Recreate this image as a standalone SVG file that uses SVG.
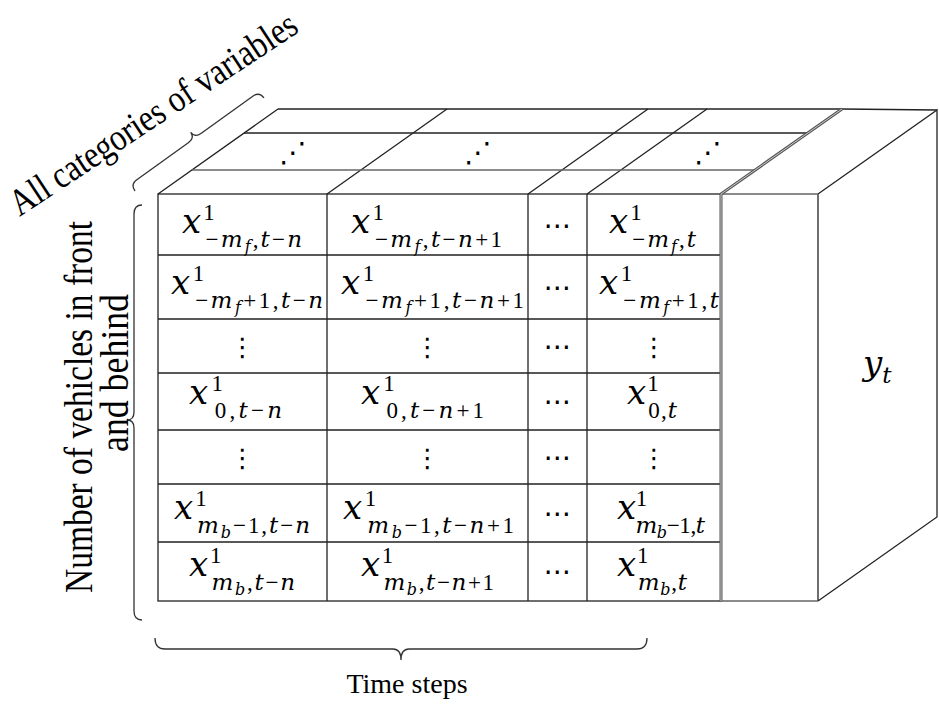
<svg xmlns="http://www.w3.org/2000/svg" width="939" height="706" viewBox="0 0 939 706">
<style>
.ln{stroke:#222;stroke-width:1.3;fill:none}
.lg{stroke:#666;stroke-width:1.3;fill:none}
.dbl{stroke:#555;stroke-width:3;fill:none}
.dblin{stroke:#ccc;stroke-width:1;fill:none}
.br{stroke:#333;stroke-width:1.3;fill:none}
.m{font-family:"DejaVu Serif","Liberation Serif",serif;font-style:italic;font-size:34px;fill:#000}
.u{font-style:normal;font-family:"Liberation Serif","DejaVu Serif",serif}
.s{font-size:23px}
.ss{font-size:16px}
.lab{font-family:"Liberation Serif","Times New Roman",serif;fill:#000}
.dh{font-family:"DejaVu Sans",sans-serif;font-size:28px;text-anchor:middle;fill:#000}
.dv{font-family:"DejaVu Sans",sans-serif;font-size:26px;text-anchor:middle;fill:#000}
</style>
<rect width="939" height="706" fill="#fff"/>

<g id="grid">
<rect x="158" y="194" width="563" height="407" class="ln" fill="#fff"/>
<path class="ln" d="M327,194V601M528,194V601M587,194V601"/>
<path class="ln" d="M158,255H721M158,319H721M158,373H721M158,430H721M158,484H721M158,542H721"/>
<path class="ln" d="M158,194L278,109M327,194L447,109M528,194L648,109M587,194L707,109"/>
<path class="ln" d="M278,109H842L937,110"/>
<path class="ln" d="M244,133H808"/>
<path class="lg" d="M192,170H755"/>
</g>

<g id="yt-box">
<path class="ln" d="M818,194V601M818,194L937,110V517L818,601"/>
<path class="lg" d="M721,601H818M721,194H818"/>
<path class="dbl" d="M842,109L721,194V601"/>
<path class="dblin" d="M842,109L721,194V601"/>
<text class="m" x="863" y="375">y<tspan class="s" dy="8">t</tspan></text>
</g>

<g id="top-dots">
<text class="dh" x="293" y="162">⋰</text>
<text class="dh" x="478" y="162">⋰</text>
<text class="dh" x="708" y="162">⋰</text>
</g>

<g id="r1c1"><text class="m" x="182" y="233" textLength="120" lengthAdjust="spacing">x<tspan class="s u" dy="-13">1</tspan><tspan class="s" dx="-11.5" dy="27"><tspan class="u">−</tspan>m</tspan><tspan class="ss" dy="5">f</tspan><tspan class="s" dy="-5"><tspan class="u">,</tspan>t<tspan class="u">−</tspan>n</tspan></text></g>
<g id="r1c2"><text class="m" x="351" y="233" textLength="151" lengthAdjust="spacing">x<tspan class="s u" dy="-13">1</tspan><tspan class="s" dx="-11.5" dy="27"><tspan class="u">−</tspan>m</tspan><tspan class="ss" dy="5">f</tspan><tspan class="s" dy="-5"><tspan class="u">,</tspan>t<tspan class="u">−</tspan>n<tspan class="u">+1</tspan></tspan></text></g>
<g id="r1c3"><text class="dh" x="557.5" y="235">⋯</text></g>
<g id="r1c4"><text class="m" x="609" y="233" textLength="87" lengthAdjust="spacing">x<tspan class="s u" dy="-13">1</tspan><tspan class="s" dx="-11.5" dy="27"><tspan class="u">−</tspan>m</tspan><tspan class="ss" dy="5">f</tspan><tspan class="s" dy="-5"><tspan class="u">,</tspan>t</tspan></text></g>

<g id="r2c1"><text class="m" x="171" y="294" textLength="152" lengthAdjust="spacing">x<tspan class="s u" dy="-13">1</tspan><tspan class="s" dx="-11.5" dy="27"><tspan class="u">−</tspan>m</tspan><tspan class="ss" dy="5">f</tspan><tspan class="s" dy="-5"><tspan class="u">+1,</tspan>t<tspan class="u">−</tspan>n</tspan></text></g>
<g id="r2c2"><text class="m" x="341" y="294" textLength="183" lengthAdjust="spacing">x<tspan class="s u" dy="-13">1</tspan><tspan class="s" dx="-11.5" dy="27"><tspan class="u">−</tspan>m</tspan><tspan class="ss" dy="5">f</tspan><tspan class="s" dy="-5"><tspan class="u">+1,</tspan>t<tspan class="u">−</tspan>n<tspan class="u">+1</tspan></tspan></text></g>
<g id="r2c3"><text class="dh" x="557.5" y="297">⋯</text></g>
<g id="r2c4"><text class="m" x="599" y="294" textLength="120" lengthAdjust="spacing">x<tspan class="s u" dy="-13">1</tspan><tspan class="s" dx="-11.5" dy="27"><tspan class="u">−</tspan>m</tspan><tspan class="ss" dy="5">f</tspan><tspan class="s" dy="-5"><tspan class="u">+1,</tspan>t</tspan></text></g>

<g id="r3c1"><text class="dv" x="242.5" y="356">⋮</text></g>
<g id="r3c2"><text class="dv" x="427.5" y="356">⋮</text></g>
<g id="r3c3"><text class="dh" x="557.5" y="356">⋯</text></g>
<g id="r3c4"><text class="dv" x="654" y="356">⋮</text></g>

<g id="r4c1"><text class="m" x="189" y="404" textLength="93" lengthAdjust="spacing">x<tspan class="s u" dy="-13">1</tspan><tspan class="s" dx="-11.5" dy="27"><tspan class="u">0,</tspan>t<tspan class="u">−</tspan>n</tspan></text></g>
<g id="r4c2"><text class="m" x="361" y="404" textLength="123" lengthAdjust="spacing">x<tspan class="s u" dy="-13">1</tspan><tspan class="s" dx="-11.5" dy="27"><tspan class="u">0,</tspan>t<tspan class="u">−</tspan>n<tspan class="u">+1</tspan></tspan></text></g>
<g id="r4c3"><text class="dh" x="557.5" y="411">⋯</text></g>
<g id="r4c4"><text class="m" x="627" y="404" textLength="50" lengthAdjust="spacing">x<tspan class="s u" dy="-13">1</tspan><tspan class="s" dx="-11.5" dy="27"><tspan class="u">0,</tspan>t</tspan></text></g>

<g id="r5c1"><text class="dv" x="242.5" y="467">⋮</text></g>
<g id="r5c2"><text class="dv" x="427.5" y="467">⋮</text></g>
<g id="r5c3"><text class="dh" x="557.5" y="467">⋯</text></g>
<g id="r5c4"><text class="dv" x="654" y="467">⋮</text></g>

<g id="r6c1"><text class="m" x="174" y="519" textLength="136" lengthAdjust="spacing">x<tspan class="s u" dy="-13">1</tspan><tspan class="s" dx="-11.5" dy="27">m</tspan><tspan class="ss" dy="5">b</tspan><tspan class="s" dy="-5"><tspan class="u">−1,</tspan>t<tspan class="u">−</tspan>n</tspan></text></g>
<g id="r6c2"><text class="m" x="343" y="519" textLength="171" lengthAdjust="spacing">x<tspan class="s u" dy="-13">1</tspan><tspan class="s" dx="-11.5" dy="27">m</tspan><tspan class="ss" dy="5">b</tspan><tspan class="s" dy="-5"><tspan class="u">−1,</tspan>t<tspan class="u">−</tspan>n<tspan class="u">+1</tspan></tspan></text></g>
<g id="r6c3"><text class="dh" x="557.5" y="523">⋯</text></g>
<g id="r6c4"><text class="m" x="617" y="519" textLength="88" lengthAdjust="spacing">x<tspan class="s u" dy="-13">1</tspan><tspan class="s" dx="-11.5" dy="27">m</tspan><tspan class="ss" dy="5">b</tspan><tspan class="s" dy="-5"><tspan class="u">−1,</tspan>t</tspan></text></g>

<g id="r7c1"><text class="m" x="189" y="576" textLength="106" lengthAdjust="spacing">x<tspan class="s u" dy="-13">1</tspan><tspan class="s" dx="-11.5" dy="27">m</tspan><tspan class="ss" dy="5">b</tspan><tspan class="s" dy="-5"><tspan class="u">,</tspan>t<tspan class="u">−</tspan>n</tspan></text></g>
<g id="r7c2"><text class="m" x="361" y="576" textLength="133" lengthAdjust="spacing">x<tspan class="s u" dy="-13">1</tspan><tspan class="s" dx="-11.5" dy="27">m</tspan><tspan class="ss" dy="5">b</tspan><tspan class="s" dy="-5"><tspan class="u">,</tspan>t<tspan class="u">−</tspan>n<tspan class="u">+1</tspan></tspan></text></g>
<g id="r7c3"><text class="dh" x="557.5" y="581">⋯</text></g>
<g id="r7c4"><text class="m" x="617" y="576" textLength="70" lengthAdjust="spacing">x<tspan class="s u" dy="-13">1</tspan><tspan class="s" dx="-11.5" dy="27">m</tspan><tspan class="ss" dy="5">b</tspan><tspan class="s" dy="-5"><tspan class="u">,</tspan>t</tspan></text></g>

<g id="braces">
<path class="br" d="M142,205Q134,205 134,214L134,412Q134,420 127,420Q134,420 134,428L134,611Q134,620 142,620"/>
<path class="br" d="M155,638Q155,649 165,649L393,649Q401,649 401,660Q401,649 409,649L637,649Q647,649 647,638"/>
<path class="br" transform="translate(135,191) rotate(-35.8)" d="M0,0Q0,-8 8,-8L71.5,-8Q79.5,-8 79.5,-15Q79.5,-8 87.5,-8L151,-8Q159,-8 159,0"/>
</g>

<g id="labels">
<text class="lab" font-size="38" text-anchor="middle" textLength="337" lengthAdjust="spacingAndGlyphs" transform="translate(160,124) rotate(-33.5)">All categories of variables</text>
<text class="lab" font-size="40" text-anchor="middle" textLength="372" lengthAdjust="spacingAndGlyphs" transform="translate(92,407) rotate(-90)">Number of vehicles in front</text>
<text class="lab" font-size="40" text-anchor="middle" textLength="158" lengthAdjust="spacingAndGlyphs" transform="translate(128,373) rotate(-90)">and behind</text>
<text class="lab" font-size="28" text-anchor="middle" x="407" y="693">Time steps</text>
</g>
</svg>
